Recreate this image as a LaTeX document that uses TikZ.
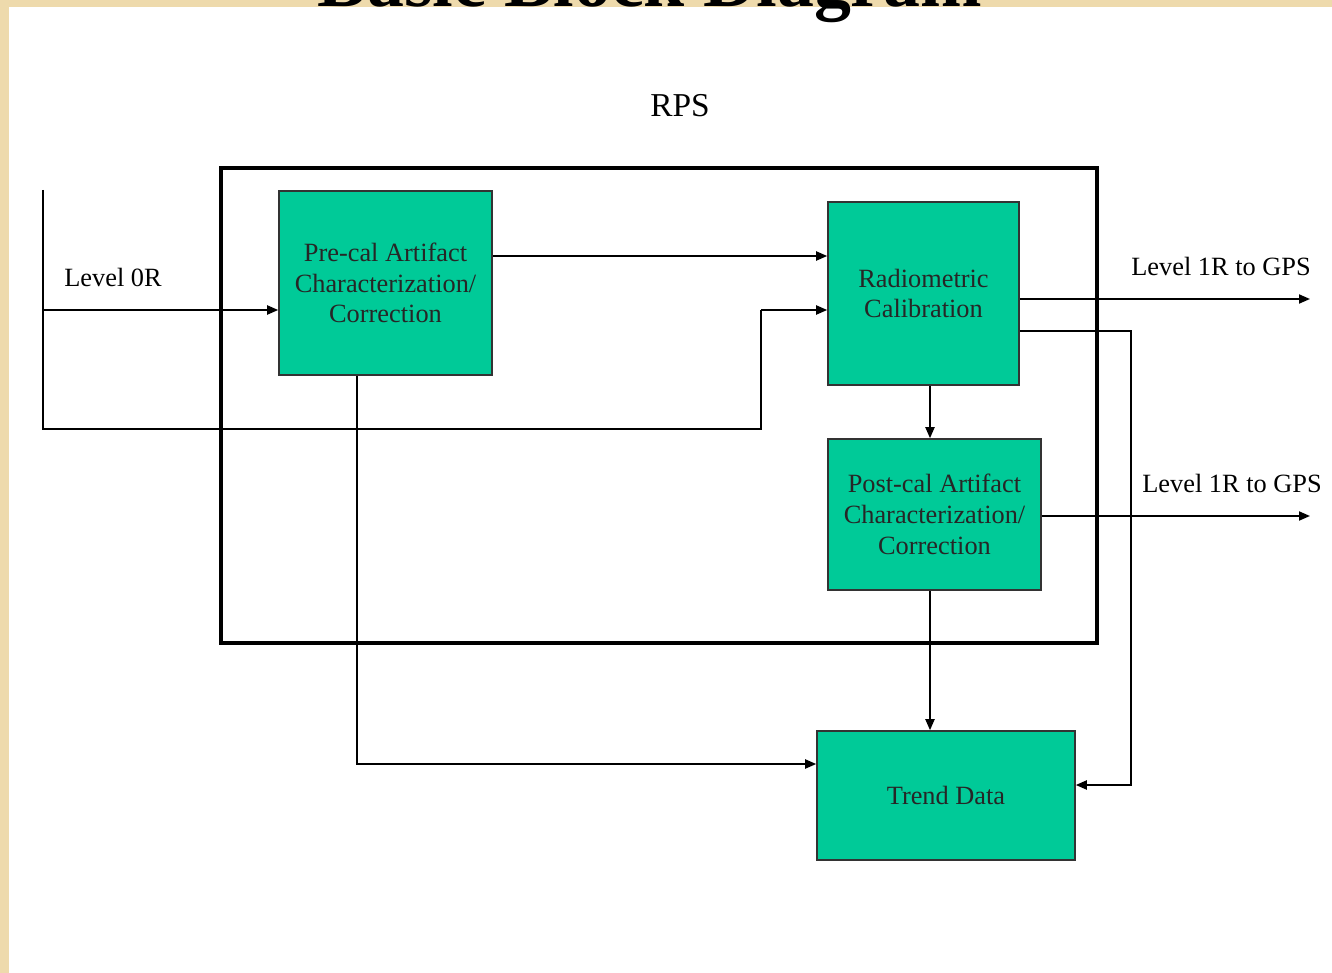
\documentclass[tikz,border=0pt]{standalone}
\usepackage{fontspec}
\setmainfont{Liberation Serif}
\usetikzlibrary{arrows.meta}
\definecolor{paper}{RGB}{238,218,172}
\definecolor{blockfill}{RGB}{0,202,152}
\begin{document}
\begin{tikzpicture}[x=0.02cm,y=-0.02cm,
  block/.style={draw=black!80,line width=0.9pt,fill=blockfill,text=black!85,
    align=center,inner sep=0pt,font=\fontsize{15}{17.5}\selectfont},
  flow/.style={line width=1.1pt,-{Triangle[length=0.22cm,width=0.18cm]}},
  wire/.style={line width=1.1pt},
  label/.style={font=\fontsize{15}{17.5}\selectfont}]
\useasboundingbox (0,0) rectangle (1332,973);
\fill[paper] (0,0) rectangle (1332,973);
\fill[white] (9,7) rectangle (1332,973);

\node[anchor=base,font=\fontsize{42}{46}\selectfont\bfseries] (title) at (650,7) {Basic Block Diagram};
\node[font=\fontsize{19}{22}\selectfont] (rps) at (680,106) {RPS};

\draw[line width=2.3pt] (221,168) rectangle (1097,643);

\node[block,minimum width=4.26cm,minimum height=3.68cm] (precal) at (385.5,283)
  {Pre-cal Artifact\\Characterization/\\Correction};
\node[block,minimum width=3.82cm,minimum height=3.66cm] (radcal) at (923.5,293.5)
  {Radiometric\\Calibration};
\node[block,minimum width=4.26cm,minimum height=3.02cm] (postcal) at (934.5,514.5)
  {Post-cal Artifact\\Characterization/\\Correction};
\node[block,minimum width=5.16cm,minimum height=2.58cm] (trend) at (946,795.5)
  {Trend Data};

\node[label] (l0r) at (113,277) {Level 0R};
\node[label] (l1a) at (1221,266) {Level 1R to GPS};
\node[label] (l1b) at (1232,483) {Level 1R to GPS};

\coordinate (intop) at (43,190);
\coordinate (inmid) at (43,310);
\coordinate (inbot) at (43,429);
\coordinate (jog) at (761,429);
\coordinate (jogtop) at (761,310);
\coordinate (link) at (0,256);
\coordinate (gpsa) at (1310,299);
\coordinate (gpsb) at (1310,516);
\coordinate (tap) at (1131,331);
\coordinate (loop) at (1131,785);
\coordinate (mid) at (930,0);
\coordinate (drop) at (357,764);

\draw[wire] (intop) -- (inbot) -- (jog) -- (jogtop);
\draw[flow] (jogtop) -- (radcal.west |- jogtop);
\draw[flow] (inmid) -- (precal.west |- inmid);
\draw[flow] (precal.east |- link) -- (radcal.west |- link);
\draw[flow] (radcal.east |- gpsa) -- (gpsa);
\draw[flow] (radcal.east |- tap) -- (tap) -- (loop) -- (trend.east |- loop);
\draw[flow] (radcal.south -| mid) -- (postcal.north -| mid);
\draw[flow] (postcal.east |- gpsb) -- (gpsb);
\draw[flow] (postcal.south -| mid) -- (trend.north -| mid);
\draw[flow] (precal.south -| drop) -- (drop) -- (trend.west |- drop);
\end{tikzpicture}
\end{document}
